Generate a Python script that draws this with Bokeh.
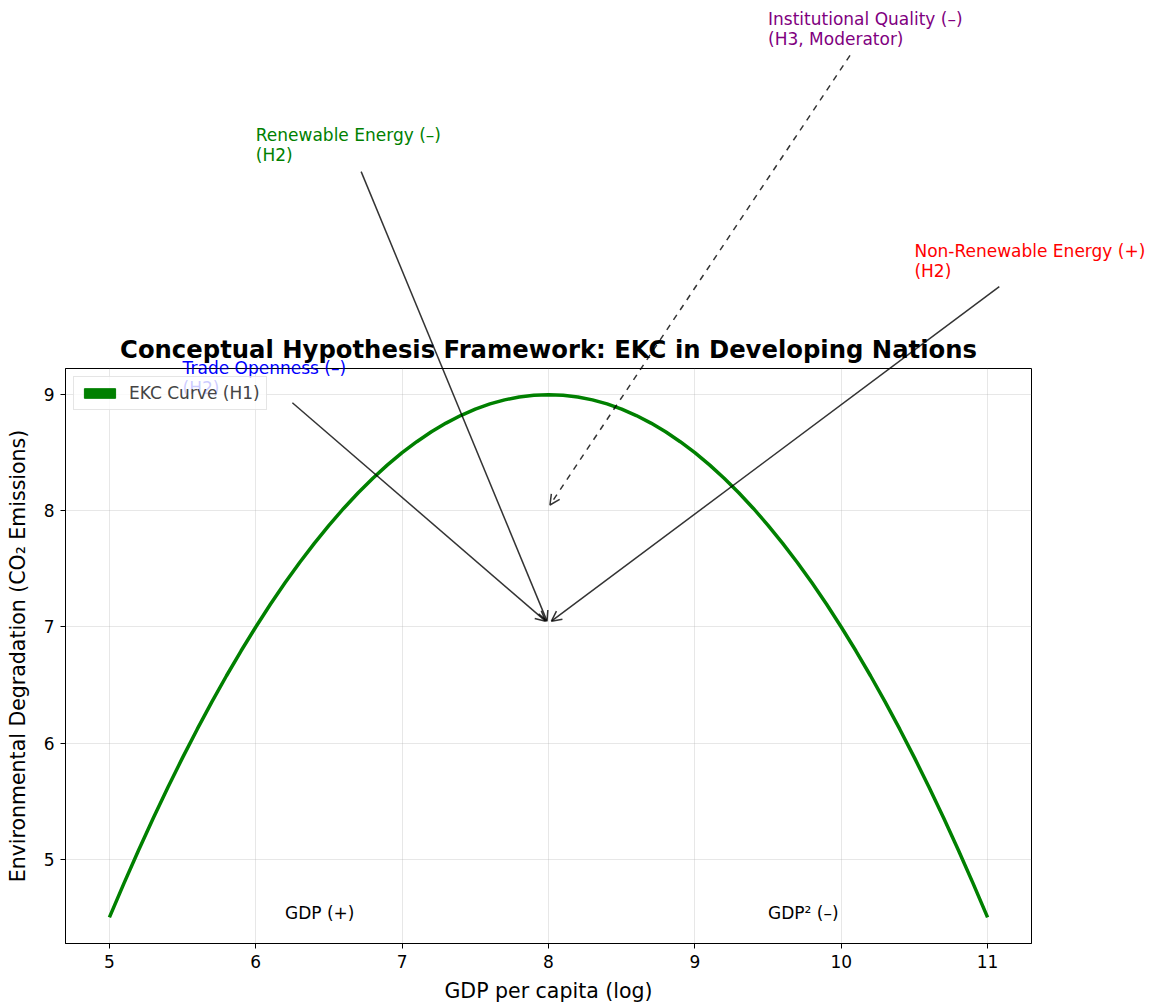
from bokeh.plotting import figure
from bokeh.layouts import column
from bokeh.models import Label, Arrow, OpenHead, Range1d, FixedTicker, Legend
from bokeh.embed import file_html
from bokeh.resources import INLINE

# EKC curve values
gdp = [5.0, 5.1, 5.2, 5.3, 5.4, 5.5, 5.6, 5.7, 5.8, 5.9,
       6.0, 6.1, 6.2, 6.3, 6.4, 6.5, 6.6, 6.7, 6.8, 6.9,
       7.0, 7.1, 7.2, 7.3, 7.4, 7.5, 7.6, 7.7, 7.8, 7.9,
       8.0, 8.1, 8.2, 8.3, 8.4, 8.5, 8.6, 8.7, 8.8, 8.9,
       9.0, 9.1, 9.2, 9.3, 9.4, 9.5, 9.6, 9.7, 9.8, 9.9,
       10.0, 10.1, 10.2, 10.3, 10.4, 10.5, 10.6, 10.7, 10.8, 10.9, 11.0]
co2 = [4.5, 4.795, 5.08, 5.355, 5.62, 5.875, 6.12, 6.355, 6.58, 6.795,
       7.0, 7.195, 7.38, 7.555, 7.72, 7.875, 8.02, 8.155, 8.28, 8.395,
       8.5, 8.595, 8.68, 8.755, 8.82, 8.875, 8.92, 8.955, 8.98, 8.995,
       9.0, 8.995, 8.98, 8.955, 8.92, 8.875, 8.82, 8.755, 8.68, 8.595,
       8.5, 8.395, 8.28, 8.155, 8.02, 7.875, 7.72, 7.555, 7.38, 7.195,
       7.0, 6.795, 6.58, 6.355, 6.12, 5.875, 5.62, 5.355, 5.08, 4.795, 4.5]

x_ticks = [5, 6, 7, 8, 9, 10, 11]
y_ticks = [5, 6, 7, 8, 9]

title_text = "Conceptual Hypothesis Framework: EKC in Developing Nations"
legend_text = "EKC Curve (H1)"

# hypothesis annotations (text anchor, arrow tail, arrow head) in data coordinates
ann_text = ["Trade Openness (\u2013)\n(H2)", "Renewable Energy (\u2013)\n(H2)",
            "Institutional Quality (\u2013)\n(H3, Moderator)", "Non-Renewable Energy (+)\n(H2)"]
ann_x = [5.5, 6.0, 9.5, 10.5]
ann_y = [9.0, 11.0, 12.0, 10.0]
ann_color = ["blue", "green", "purple", "red"]
tail_x = [6.25, 6.72, 10.06, 11.08]
tail_y = [8.93, 10.92, 11.92, 9.93]
head_x = [7.98, 7.99, 8.01, 8.02]
head_y = [7.05, 7.05, 8.05, 7.05]
ann_dash = ["solid", "solid", "dashed", "solid"]

term_text = ["GDP (+)", "GDP\u00b2 (\u2013)"]
term_x = [6.2, 9.5]
term_y = [4.5, 4.5]

FONT = "DejaVu Sans"
FRAME_W, FRAME_H = 966, 575
LEFT, RIGHT, TOP, BOTTOM = 65, 114, 368, 58

x_lo, x_hi = 4.7, 11.3
y_lo, y_hi = 4.275, 9.225
x_range = Range1d(x_lo, x_hi)
ux = (x_hi - x_lo) / FRAME_W
uy = (y_hi - y_lo) / FRAME_H

# ---- upper strip: area above the axes holding the title and annotation texts
top = figure(frame_width=FRAME_W + RIGHT, frame_height=TOP,
             min_border_left=LEFT, min_border_right=0, min_border_top=0, min_border_bottom=0,
             x_range=Range1d(x_lo, x_hi + RIGHT * ux), y_range=Range1d(y_hi, y_hi + TOP * uy),
             output_backend="svg", toolbar_location=None)
top.axis.visible = False
top.grid.visible = False
top.outline_line_color = None

# ---- main axes
p = figure(frame_width=FRAME_W, frame_height=FRAME_H,
           min_border_left=LEFT, min_border_right=RIGHT, min_border_top=0, min_border_bottom=BOTTOM,
           x_range=x_range, y_range=Range1d(y_lo, y_hi),
           output_backend="svg", toolbar_location=None)

p.outline_line_color = "black"
p.outline_line_width = 1

for ax in (p.xaxis, p.yaxis):
    ax.axis_line_color = "black"
    ax.major_tick_line_color = "black"
    ax.minor_tick_line_color = None
    ax.major_tick_out = 5
    ax.major_tick_in = 0
    ax.major_label_text_font = FONT
    ax.major_label_text_font_size = "17px"
    ax.major_label_text_color = "black"
    ax.axis_label_text_font = FONT
    ax.axis_label_text_font_size = "20.5px"
    ax.axis_label_text_font_style = "normal"
    ax.axis_label_text_color = "black"

p.xaxis.ticker = FixedTicker(ticks=x_ticks)
p.yaxis.ticker = FixedTicker(ticks=y_ticks)
p.xaxis.axis_label = "GDP per capita (log)"
p.yaxis.axis_label = "Environmental Degradation (CO\u2082 Emissions)"
p.xaxis.major_label_standoff = 6
p.yaxis.major_label_standoff = 6
p.xaxis.axis_label_standoff = 8
p.yaxis.axis_label_standoff = 11

p.xgrid.ticker = FixedTicker(ticks=x_ticks)
p.ygrid.ticker = FixedTicker(ticks=y_ticks)
p.grid.grid_line_color = "#b0b0b0"
p.grid.grid_line_alpha = 0.3
p.grid.grid_line_width = 1

p.line(gdp, co2, line_color="green", line_width=3.5)
# legend proxy patch (no visible mark in the plot)
nan = float("nan")
leg_r = p.quad(left=[nan], right=[nan], top=[nan], bottom=[nan],
               fill_color="green", line_color="green")


def add_label(fig, t, x, y, c):
    fig.add_layout(Label(x=x, y=y, y_offset=-3, text=t, text_color=c,
                         text_font=FONT, text_font_size="17px", text_line_height=1.0,
                         text_baseline="bottom", text_align="left"))


def add_arrow(fig, xs, ys, xe, ye, d):
    fig.add_layout(Arrow(x_start=xs, y_start=ys, x_end=xe, y_end=ye,
                         line_color="black", line_alpha=0.8, line_width=1.5, line_dash=d,
                         end=OpenHead(size=10, line_color="black", line_alpha=0.8, line_width=1.5)))


# each annotation is drawn in the panel(s) it falls in
for t, x, y, c in zip(ann_text, ann_x, ann_y, ann_color):
    if y <= y_hi:
        add_label(p, t, x, y, c)
    add_label(top, t, x, y, c)
for xs, ys, xe, ye, d in zip(tail_x, tail_y, head_x, head_y, ann_dash):
    add_arrow(p, xs, ys, xe, ye, d)
    if ys > y_hi:
        add_arrow(top, xs, ys, xe, ye, d)

top.add_layout(Label(x=(x_lo + x_hi) / 2, y=y_hi, y_offset=5,
                     text=title_text, text_font=FONT, text_font_size="24.3px",
                     text_font_style="bold", text_color="black",
                     text_align="center", text_baseline="bottom"))

for t, x, y in zip(term_text, term_x, term_y):
    p.add_layout(Label(x=x, y=y, y_offset=4, text=t, text_color="black",
                       text_font=FONT, text_font_size="17px",
                       text_baseline="alphabetic", text_align="left"))

legend = Legend(items=[(legend_text, [leg_r])], location="top_left",
                margin=8, padding=6, glyph_width=39, glyph_height=12, label_height=18,
                label_standoff=10, label_text_font=FONT, label_text_font_size="17px",
                border_line_color="#cccccc", border_line_width=1,
                background_fill_color="white", background_fill_alpha=0.8)
p.add_layout(legend)

layout = column(top, p, spacing=0)
open("out.html", "w").write(file_html(layout, INLINE))
